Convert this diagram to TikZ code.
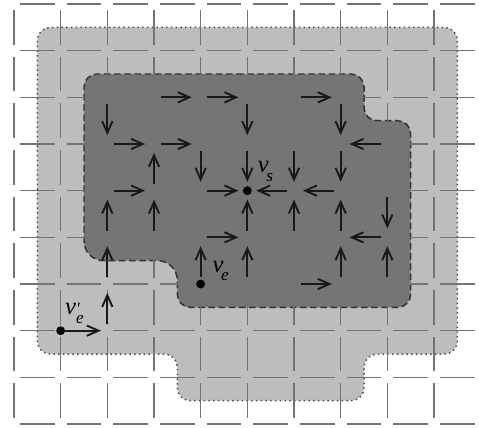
\documentclass[tikz,border=0pt]{standalone}
\usepackage{fontspec}
\newfontfamily\lbf{Liberation Serif}
\usetikzlibrary{arrows.meta}
\newcommand\vsub[2]{{\lbf\itshape v}\kern-0.1em\raisebox{-#2}{\lbf\itshape\fontsize{10.5}{12}\selectfont #1}}
\newcommand\vprsub[1]{{\lbf\itshape v}\rlap{\raisebox{0.4pt}{\lbf\fontsize{10.5}{12}\selectfont\itshape\char"2032}}\raisebox{-5.6pt}{\lbf\itshape\fontsize{10.5}{12}\selectfont #1}}
\begin{document}
\begin{tikzpicture}[x=1cm,y=1cm,
  gridline/.style={draw=black!55, line width=0.75pt},
  flow/.style={-{Straight Barb[length=2.5mm,width=2.2mm]}, line width=1.15pt, draw=black!90, shorten <=0.14cm, shorten >=0.19cm},
  vtx/.style={circle, fill=black, inner sep=0pt, minimum size=0.19cm},
  lbl/.style={anchor=base west, inner sep=0pt, font=\fontsize{15}{18}\selectfont}]
\useasboundingbox (-0.3,-9.085) rectangle (9.964,0.0857);

% grid point coordinates
\foreach \i in {0,...,9} \foreach \j in {0,...,9} \coordinate (p\i\j) at (\i,-\j);

% outer (light) region
\filldraw[fill=black!26, draw=black!70, line width=0.9pt, dotted, rounded corners=0.28cm]
 (4.5,-0.5) -- (9.5,-0.5) -- (9.5,-7.5) -- (7.5,-7.5) -- (7.5,-8.5) -- (3.5,-8.5) -- (3.5,-7.5) -- (0.5,-7.5) -- (0.5,-0.5) -- cycle;

% inner (dark) region
\filldraw[fill=black!54, draw=black!80, line width=0.9pt, dash pattern=on 4pt off 2.2pt, rounded corners=0.28cm]
 (4.5,-1.5) -- (7.5,-1.5) -- (7.5,-2.5) -- (8.5,-2.5) -- (8.5,-6.5) -- (3.5,-6.5) [rounded corners=0.42cm] -- (3.5,-5.5) -- (1.5,-5.5) [rounded corners=0.28cm] -- (1.5,-1.5) -- cycle;

% dashed grid
\foreach \j in {0,...,9} \foreach \k in {0,...,9}
  \draw[gridline] (\k+0.13,-\j) -- (\k+0.87,-\j);
\foreach \i in {0,...,9} \foreach \k in {0,...,8}
  \draw[gridline] (\i,-\k-0.13) -- (\i,-\k-0.87);

% flow arrows
\foreach \a/\b in {p32/p42, p42/p52, p62/p72, p23/p33, p33/p43, p24/p34, p44/p54, p45/p55, p66/p76,
                   p83/p73, p64/p54, p74/p64, p85/p75,
                   p22/p23, p52/p53, p72/p73, p43/p44, p53/p54, p63/p64, p73/p74, p84/p85,
                   p34/p33, p25/p24, p35/p34, p55/p54, p65/p64, p75/p74, p26/p25, p46/p45, p56/p55, p76/p75, p86/p85, p27/p26}
  \draw[flow] (\a) -- (\b);
\draw[flow, shorten <=0.08cm, shorten >=0.14cm] (p17) -- (p27);

% vertices
\node[vtx] (vs) at (p54) {};
\node[vtx] (ve) at (p46) {};
\node[vtx] (vep) at (p17) {};
\node[lbl] (lvs) at ([shift={(0.22,0.40)}]vs.center) {\vsub{s}{6pt}};
\node[lbl] (lve) at ([shift={(0.25,0.25)}]ve.center) {\vsub{e}{5pt}};
\node[lbl] (lvep) at ([shift={(0.09,0.34)}]vep.center) {\vprsub{e}};
\end{tikzpicture}
\end{document}
